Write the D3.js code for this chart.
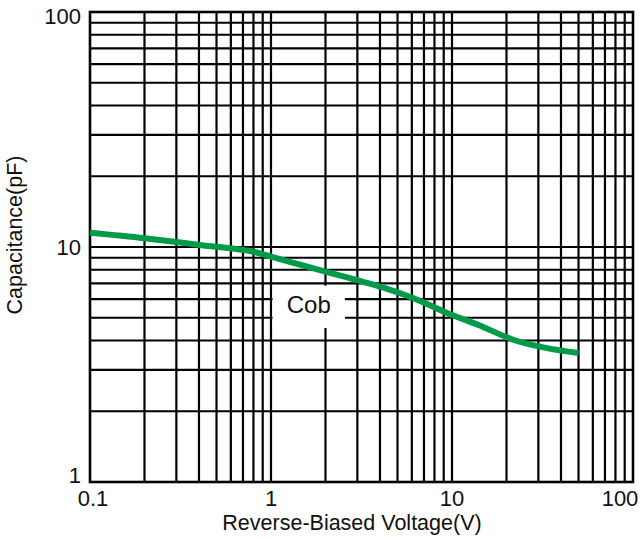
<!DOCTYPE html>
<html><head><meta charset="utf-8">
<script src="https://cdn.jsdelivr.net/npm/d3@7"></script>
<style>body{margin:0;background:#fff}svg{display:block}text{font-family:"Liberation Sans",Arial,sans-serif;fill:#111}</style>
</head><body>
<svg id="c" width="642" height="540"></svg>
<script>
const voltage = [0.1, 0.2, 0.3, 0.4, 0.6, 0.8, 1, 1.3, 2, 3.2, 4.3, 6.1, 9.4, 14, 22, 33, 50];
const cob = [11.5, 10.9, 10.5, 10.2, 9.87, 9.55, 9.1, 8.6, 7.85, 7.12, 6.67, 6.07, 5.24, 4.66, 4.02, 3.72, 3.54];
const xTickLabels = ["0.1", "1", "10", "100"];
const yTickLabels = ["1", "10", "100"];
const seriesName = "Cob";
const xTitle = "Reverse-Biased Voltage(V)";
const yTitle = "Capacitance(pF)";

const svg = d3.select("#c");
const L = 90, R = 633, T = 12, B = 482;
const x = d3.scaleLog().domain([0.1, 100]).range([L, R]);
const y = d3.scaleLog().domain([1, 100]).range([B, T]);

const xGrid = x.ticks().filter(v => v > 0.1 && v < 100);
const yGrid = y.ticks().filter(v => v > 1 && v < 100);

const g = svg.append("g");
g.selectAll("line.v").data(xGrid).join("line")
  .attr("x1", d => x(d)).attr("x2", d => x(d)).attr("y1", T).attr("y2", B)
  .attr("stroke", "#000").attr("stroke-width", 2.2);
g.selectAll("line.h").data(yGrid).join("line")
  .attr("y1", d => y(d)).attr("y2", d => y(d)).attr("x1", L).attr("x2", R)
  .attr("stroke", "#000").attr("stroke-width", 2.2);
g.append("rect").attr("x", L).attr("y", T).attr("width", R - L).attr("height", B - T)
  .attr("fill", "none").attr("stroke", "#000").attr("stroke-width", 2.6);

// label box (anchored in data space)
const bx0 = x(1.02), bx1 = x(2.56), by0 = y(6.85), by1 = y(4.52);
g.append("rect").attr("x", bx0).attr("y", by0).attr("width", bx1 - bx0).attr("height", by1 - by0).attr("fill", "#fff");
g.append("text").attr("x", (bx0 + bx1) / 2).attr("y", by0 + 27).attr("text-anchor", "middle")
  .attr("font-size", 24).text(seriesName);

const line = d3.line().x(d => x(d[0])).y(d => y(d[1])).curve(d3.curveMonotoneX);
svg.append("path").datum(voltage.map((v, i) => [v, cob[i]]))
  .attr("d", line).attr("fill", "none").attr("stroke", "#009b48").attr("stroke-width", 6)
  .attr("stroke-linecap", "butt");

// tick labels
const xVals = xTickLabels.map(Number);
svg.selectAll("text.xt").data(xVals).join("text")
  .attr("x", (d, i) => Math.min(Math.max(x(d), L + 3), R - 13)).attr("y", 506)
  .attr("text-anchor", "middle").attr("font-size", 22)
  .text((d, i) => xTickLabels[i]);
const yVals = yTickLabels.map(Number);
svg.selectAll("text.yt").data(yVals).join("text")
  .attr("x", 81).attr("y", d => Math.min(Math.max(y(d), T + 4), B - 7) + 8)
  .attr("text-anchor", "end").attr("font-size", 22)
  .text((d, i) => yTickLabels[i]);

svg.append("text").attr("x", 352).attr("y", 530).attr("text-anchor", "middle")
  .attr("font-size", 21.5).text(xTitle);
svg.append("text").attr("transform", "translate(22,235) rotate(-90)").attr("text-anchor", "middle")
  .attr("font-size", 21.5).text(yTitle);
</script>
</body></html>
